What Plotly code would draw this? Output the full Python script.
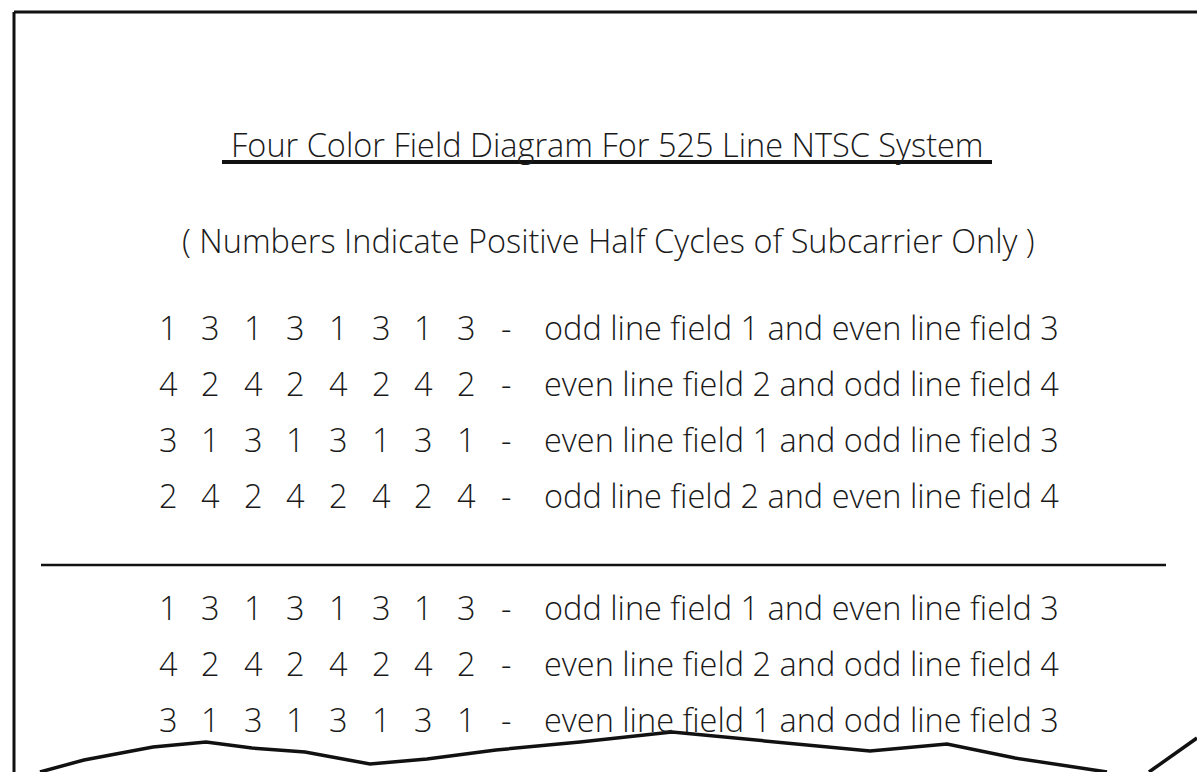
import plotly.graph_objects as go

# ---- data ----
title_text = "Four Color Field Diagram For 525 Line NTSC System"
subtitle_text = "( Numbers Indicate Positive Half Cycles of Subcarrier Only )"

group1_digits = [
    [1, 3, 1, 3, 1, 3, 1, 3],
    [4, 2, 4, 2, 4, 2, 4, 2],
    [3, 1, 3, 1, 3, 1, 3, 1],
    [2, 4, 2, 4, 2, 4, 2, 4],
]
group1_labels = [
    "odd line field 1 and even line field 3",
    "even line field 2 and odd line field 4",
    "even line field 1 and odd line field 3",
    "odd line field 2 and even line field 4",
]
group2_digits = [
    [1, 3, 1, 3, 1, 3, 1, 3],
    [4, 2, 4, 2, 4, 2, 4, 2],
    [3, 1, 3, 1, 3, 1, 3, 1],
]
group2_labels = [
    "odd line field 1 and even line field 3",
    "even line field 2 and odd line field 4",
    "even line field 1 and odd line field 3",
]

# torn paper edge (decorative outline)
tear_left_x = [40, 84, 153, 206, 252, 305, 370, 427, 496, 580, 672, 733, 802, 870, 947, 1015, 1107]
tear_left_y = [772, 760, 747, 742, 748, 752, 764, 759, 750, 742, 732, 738, 744, 751, 744, 758, 772]
tear_right_x = [1149, 1197]
tear_right_y = [772, 738]

# ---- layout parameters ----
W, H = 1197, 772
FONT = "Open Sans, Liberation Sans, Arial, sans-serif"
TXT = "#1a1a1a"
INK = "#111111"
FS = 32.5
WEIGHT = 300

digit_x0, digit_step = 168, 42.6
dash_x = 506
label_x = 542
g1_y0, g2_y0, row_step = 327, 607, 56

fig = go.Figure()
fig.add_trace(go.Scatter(x=tear_left_x, y=tear_left_y, mode="lines",
                         line=dict(color=INK, width=3.5), hoverinfo="skip", showlegend=False))
fig.add_trace(go.Scatter(x=tear_right_x, y=tear_right_y, mode="lines",
                         line=dict(color=INK, width=3.5), hoverinfo="skip", showlegend=False))


def tfont():
    return dict(family=FONT, size=FS, color=TXT, weight=WEIGHT)


ann = []
ann.append(dict(x=607, y=144, text=title_text, xanchor="center", yanchor="middle", font=tfont()))
ann.append(dict(x=608, y=240, text=subtitle_text, xanchor="center", yanchor="middle", font=tfont()))


def add_group(digits, labels, y0):
    for r, (row, lab) in enumerate(zip(digits, labels)):
        y = y0 + r * row_step
        for i, d in enumerate(row):
            ann.append(dict(x=digit_x0 + i * digit_step, y=y, text=str(d),
                            xanchor="center", yanchor="middle", font=tfont()))
        ann.append(dict(x=dash_x, y=y, text="-", xanchor="center", yanchor="middle", font=tfont()))
        ann.append(dict(x=label_x, y=y, text=lab, xanchor="left", yanchor="middle", font=tfont()))


add_group(group1_digits, group1_labels, g1_y0)
add_group(group2_digits, group2_labels, g2_y0)
for a in ann:
    a.update(xref="x", yref="y", showarrow=False)

shapes = [
    # page border (left and top)
    dict(type="line", x0=14, y0=12, x1=14, y1=772, line=dict(color=INK, width=3)),
    dict(type="line", x0=14, y0=12, x1=1197, y1=12, line=dict(color=INK, width=3)),
    # title underline
    dict(type="line", x0=222, y0=162, x1=992, y1=162, line=dict(color=INK, width=4)),
    # separator
    dict(type="line", x0=41, y0=565, x1=1166, y1=565, line=dict(color=INK, width=2.5)),
]
for s in shapes:
    s.update(xref="x", yref="y")

fig.update_layout(
    width=W, height=H, margin=dict(l=0, r=0, t=0, b=0),
    paper_bgcolor="white", plot_bgcolor="white",
    xaxis=dict(range=[0, W], visible=False, fixedrange=True),
    yaxis=dict(range=[H, 0], visible=False, fixedrange=True),
    annotations=ann, shapes=shapes, showlegend=False,
)
fig.write_html("out.html", config={"displayModeBar": False},
               post_script="document.body.style.margin='0px';")
